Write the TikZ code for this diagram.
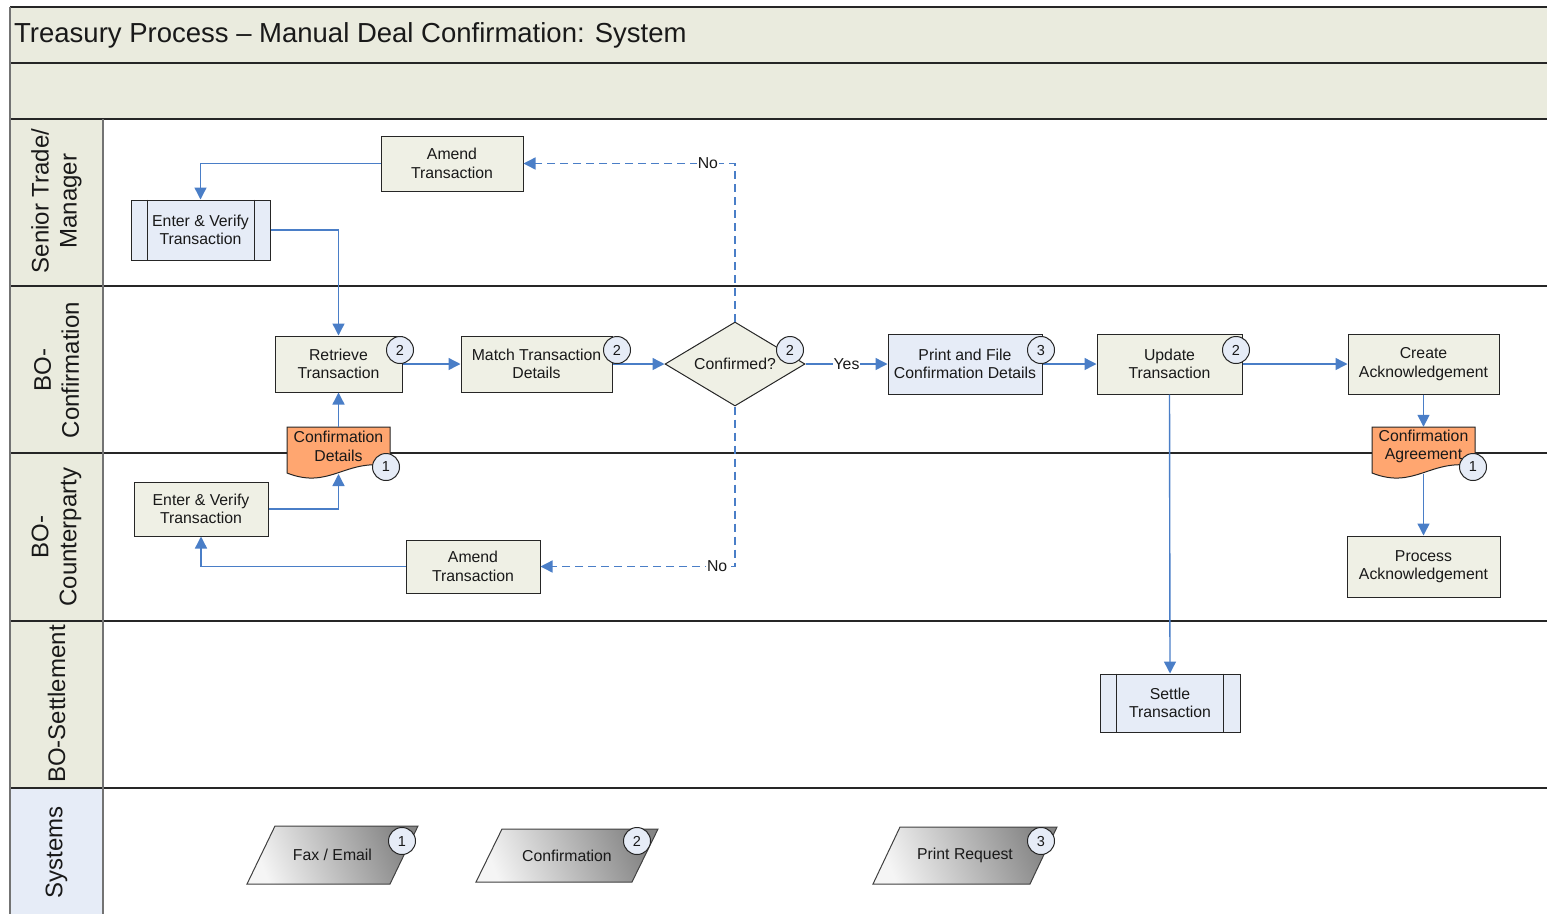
\documentclass[tikz,border=0pt]{standalone}
\usepackage{fontspec}
\setmainfont{Liberation Sans}
\usetikzlibrary{shapes.geometric,arrows.meta,calc}
\definecolor{band}{RGB}{234,235,222}
\definecolor{procfill}{RGB}{239,240,229}
\definecolor{bluefill}{RGB}{230,236,247}
\definecolor{docfill}{RGB}{255,166,112}
\definecolor{arrowblue}{RGB}{74,126,199}
\begin{document}
\begin{tikzpicture}[x=1pt,y=-1pt,
  every node/.style={font=\fontsize{15.8}{18.5}\selectfont, text=black!90, align=center, inner sep=0pt},
  proc/.style={draw=black!85, fill=procfill, line width=1pt},
  bproc/.style={draw=black!85, fill=bluefill, line width=1pt},
  decide/.style={diamond, draw=black!85, fill=procfill, line width=1pt, shape aspect=1.67},
  docshape/.style={draw=black!85, fill=docfill, line width=1pt},
  badge/.style={circle, draw=black!85, fill=bluefill, line width=1pt, minimum size=27pt, font=\fontsize{14.5}{16}\selectfont},
  sysshape/.style={draw=black!75, line width=1pt, left color=black!4, right color=black!48, shading angle=112},
  laneline/.style={draw=black!85, line width=1.2pt},
  grayline/.style={draw=black!55, line width=1.2pt},
  flow/.style={draw=arrowblue, line width=1.4pt, -{Triangle[length=12pt,width=12pt]}},
  dflow/.style={flow, dash pattern=on 8pt off 5pt},
  lbl/.style={fill=white, inner sep=1pt},
  lanetitle/.style={rotate=90, font=\fontsize{24}{28}\selectfont}
]
\useasboundingbox (0,0) rectangle (1547,914);
% bands
\fill[band] (10,7) rectangle (1547,119);
\fill[band] (10,119) rectangle (103,788);
\fill[bluefill] (10,788) rectangle (103,914);
\draw[laneline] (10,7) -- (1547,7);
\foreach \yy in {63,119,286,453,621,788} {\draw[laneline] (10,\yy) -- (1547,\yy);}
\draw[grayline] (10,7) -- (10,914);
\draw[grayline] (103,119) -- (103,914);
\node[anchor=west, font=\fontsize{27.5}{31}\selectfont] (title) at (14,35) {Treasury Process -- Manual Deal Confirmation: System};
\node[lanetitle] (l1) at (56.5,201) {Senior Trade/\\Manager};
\node[lanetitle] (l2) at (56.5,370) {BO-\\Confirmation};
\node[lanetitle] (l3) at (56.5,537) {BO-\\Counterparty};
\node[lanetitle] (l4) at (56.5,704) {BO-Settlement};
\node[lanetitle] (l5) at (56.5,852) {Systems};

% process nodes
\node[proc, minimum width=142pt, minimum height=55pt] (am1) at (452,163.5) {Amend\\Transaction};
\node[bproc, minimum width=139pt, minimum height=60pt] (ev1) at (200.5,230) {Enter \& Verify\\Transaction};
\draw[black!85, line width=1pt] ([xshift=17pt]ev1.north west) -- ([xshift=17pt]ev1.south west)
  ([xshift=-16pt]ev1.north east) -- ([xshift=-16pt]ev1.south east);
\node[proc, minimum width=127pt, minimum height=56pt] (ret) at (338.5,364) {Retrieve\\Transaction};
\node[proc, minimum width=151pt, minimum height=56pt] (mat) at (536.5,364) {Match Transaction\\Details};
\node[decide, minimum width=140pt, minimum height=84pt] (dia) at (735,364) {Confirmed?};
\node[bproc, minimum width=154pt, minimum height=60pt] (pf) at (965,364) {Print and File\\Confirmation Details};
\node[proc, minimum width=145pt, minimum height=60pt] (upd) at (1169.5,364) {Update\\Transaction};
\node[proc, minimum width=151pt, minimum height=60pt] (cre) at (1423.5,364) {Create\\Acknowledgement};
\node[proc, minimum width=134pt, minimum height=54pt] (ev2) at (201,509) {Enter \& Verify\\Transaction};
\node[proc, minimum width=134pt, minimum height=53pt] (am2) at (473,566.5) {Amend\\Transaction};
\node[proc, minimum width=153pt, minimum height=61pt] (pa) at (1423.5,566.5) {Process\\Acknowledgement};
\node[bproc, minimum width=140pt, minimum height=58pt] (st) at (1170,703) {Settle\\Transaction};
\draw[black!85, line width=1pt] ([xshift=17pt]st.north west) -- ([xshift=17pt]st.south west)
  ([xshift=-17pt]st.north east) -- ([xshift=-17pt]st.south east);

% documents
\coordinate (cdc) at (338.5,446.5);
\coordinate (cac) at (1423.5,446.5);
\draw[docshape] ($(cdc)+(-51.5,-19.5)$) -- ($(cdc)+(51.5,-19.5)$) -- ($(cdc)+(51.5,19.5)$)
  .. controls +(-45,-8) and +(43,17) .. ($(cdc)+(-51.5,26.5)$) -- cycle;
\draw[docshape] ($(cac)+(-51.5,-19.5)$) -- ($(cac)+(51.5,-19.5)$) -- ($(cac)+(51.5,19.5)$)
  .. controls +(-45,-8) and +(43,17) .. ($(cac)+(-51.5,26.5)$) -- cycle;
\node[minimum width=103pt, minimum height=39pt] (cd) at (cdc) {Confirmation\\Details};
\node[minimum width=103pt, minimum height=39pt] (ca) at (cac) {Confirmation\\Agreement};
\coordinate (cdb) at (338.5,474);
\coordinate (cab) at (1423.5,474);

% systems
\coordinate (fxc) at (332.5,855);
\coordinate (cfc) at (567,855.5);
\coordinate (prc) at (965,855.5);
\shadedraw[sysshape] ($(fxc)+(-85.5,29)$) -- ++(143,0) -- ++(28,-58) -- ++(-143,0) -- cycle;
\shadedraw[sysshape] ($(cfc)+(-91,26.5)$) -- ++(156,0) -- ++(26,-53) -- ++(-156,0) -- cycle;
\shadedraw[sysshape] ($(prc)+(-92,28.5)$) -- ++(157,0) -- ++(27,-57) -- ++(-157,0) -- cycle;
\node (fax) at (fxc) {Fax / Email};
\node (cfs) at (cfc) {Confirmation};
\node (prq) at (prc) {Print Request};

% connectors
\draw[flow] (am1.west) -| (ev1.north);
\draw[flow] (ev1.east) -| (ret.north);
\draw[flow] (ret.east) -- (mat.west);
\draw[flow] (mat.east) -- (dia.west);
\draw[flow] (dia.east) -- node[lbl] {Yes} (pf.west);
\draw[flow] (pf.east) -- (upd.west);
\draw[flow] (upd.east) -- (cre.west);
\draw[flow] (cre.south) -- (ca.north);
\draw[flow] (cab) -- (pa.north);
\draw[flow] (upd.south) -- (st.north);
\draw[flow] (cd.north) -- (ret.south);
\draw[flow] (ev2.east) -| (cdb);
\draw[flow] (am2.west) -| (ev2.south);
\draw[dflow] (dia.north) |- node[lbl, pos=0.564] {No} (am1.east);
\draw[dflow] (dia.south) |- node[lbl, pos=0.546] {No} (am2.east);

% badges
\node[badge] (b1) at (400,350) {2};
\node[badge] (b2) at (617,350) {2};
\node[badge] (b3) at (790,350) {2};
\node[badge] (b4) at (1041,350) {3};
\node[badge] (b5) at (1236,350) {2};
\node[badge] (b6) at (386,467) {1};
\node[badge] (b7) at (1473,467) {1};
\node[badge] (b8) at (402,841) {1};
\node[badge] (b9) at (637,841) {2};
\node[badge] (b10) at (1041,841) {3};
\end{tikzpicture}
\end{document}
